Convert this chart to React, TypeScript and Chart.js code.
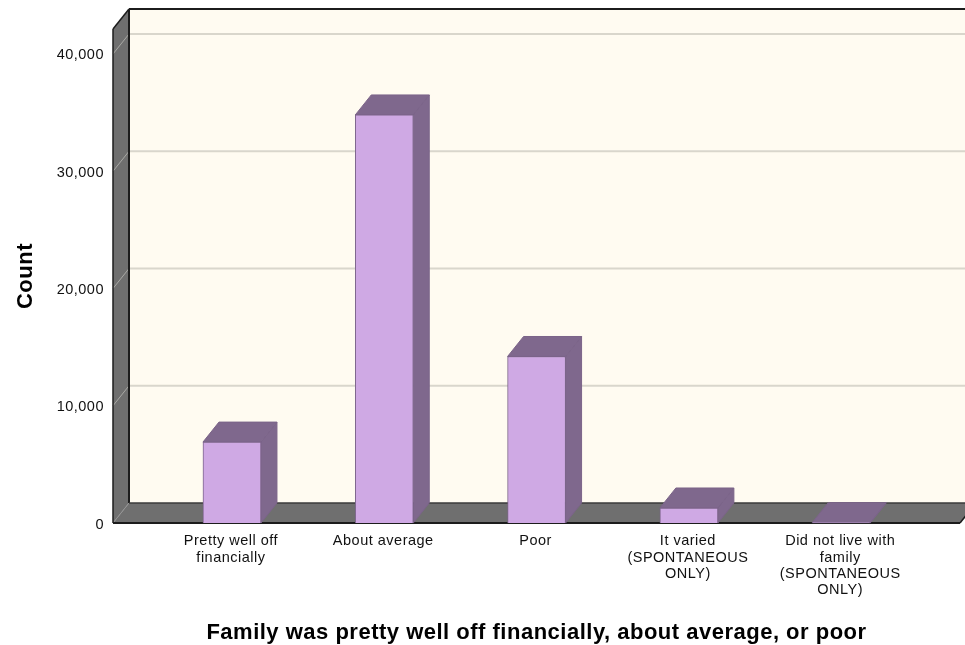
import React, { useEffect, useRef } from "react";
import { Chart, registerables, Plugin } from "chart.js";

Chart.register(...registerables);

const categories: string[][] = [
  ["Pretty well off", "financially"],
  ["About average"],
  ["Poor"],
  ["It varied", "(SPONTANEOUS", "ONLY)"],
  ["Did not live with", "family", "(SPONTANEOUS", "ONLY)"],
];
const counts = [6900, 34800, 14200, 1280, 30];
const yTicks = [0, 10000, 20000, 30000, 40000];
const yMax = 42130;
const xMin = -0.781;
const xMax = 4.78;

const xTitle = "Family was pretty well off financially, about average, or poor";
const yTitle = "Count";

// Depth of the extruded box, in canvas pixels.
const DEPTH_X = 16;
const DEPTH_Y = 20;

const WALL_BACK = "#fffbf1";
const WALL_SIDE = "#6f6f6f";
const EDGE = "#1c1c1c";
const GRID = "#d9d6cc";
const BAR_FRONT = "#cfa9e4";
const BAR_SIDE = "#7f688d";
const BAR_EDGE = "#7b6489";

function poly(ctx: CanvasRenderingContext2D, pts: number[][], fill: string, stroke?: string, lw = 1) {
  ctx.beginPath();
  pts.forEach(([x, y], i) => (i ? ctx.lineTo(x, y) : ctx.moveTo(x, y)));
  ctx.closePath();
  ctx.fillStyle = fill;
  ctx.fill();
  if (stroke) {
    ctx.strokeStyle = stroke;
    ctx.lineWidth = lw;
    ctx.stroke();
  }
}

function segment(ctx: CanvasRenderingContext2D, x0: number, y0: number, x1: number, y1: number, color: string, lw: number) {
  ctx.beginPath();
  ctx.moveTo(x0, y0);
  ctx.lineTo(x1, y1);
  ctx.strokeStyle = color;
  ctx.lineWidth = lw;
  ctx.stroke();
}

// The axis text is set slightly wide; the spacing has to be in place for measuring and drawing.
const wideText: Plugin<"bar"> = {
  id: "wideText",
  beforeLayout(chart) {
    (chart.ctx as any).letterSpacing = "0.5px";
  },
  beforeDraw(chart) {
    (chart.ctx as any).letterSpacing = "0.5px";
  },
};

// Paints the box walls, the floor, the gridlines and the bar sides behind the bar fronts.
const box3d: Plugin<"bar"> = {
  id: "box3d",
  beforeDatasetsDraw(chart) {
    const { ctx, chartArea: a, scales } = chart;
    const y = scales.y;
    const y0 = y.getPixelForValue(0);
    const dx = DEPTH_X;
    const dy = DEPTH_Y;
    ctx.save();

    poly(ctx, [[a.left + dx, a.top - dy], [a.right + dx, a.top - dy], [a.right + dx, y0 - dy], [a.left + dx, y0 - dy]], WALL_BACK);
    poly(ctx, [[a.left, a.top], [a.left + dx, a.top - dy], [a.left + dx, y0 - dy], [a.left, y0]], WALL_SIDE);
    poly(ctx, [[a.left, y0], [a.left + dx, y0 - dy], [a.right + dx, y0 - dy], [a.right, y0]], WALL_SIDE);

    for (const t of y.ticks) {
      if (t.value === 0) continue;
      const py = y.getPixelForValue(t.value);
      segment(ctx, a.left, py, a.left + dx, py - dy, "#a9a9a5", 1);
      segment(ctx, a.left + dx, py - dy, a.right + dx, py - dy, GRID, 2);
    }
    segment(ctx, a.left, y0, a.left + dx, y0 - dy, "#959595", 1);

    segment(ctx, a.left + dx, a.top - dy, a.right + dx, a.top - dy, EDGE, 2);
    segment(ctx, a.left + dx, a.top - dy, a.left + dx, y0 - dy, EDGE, 2);
    segment(ctx, a.left + dx, y0 - dy, a.right + dx, y0 - dy, "#3a3a3a", 1.5);
    segment(ctx, a.left, a.top, a.left + dx, a.top - dy, EDGE, 1.5);
    segment(ctx, a.left, a.top, a.left, y0, EDGE, 1.5);
    segment(ctx, a.left, y0, a.right, y0, EDGE, 2);
    segment(ctx, a.right, y0, a.right + dx, y0 - dy, EDGE, 1.5);

    for (const el of chart.getDatasetMeta(0).data as any[]) {
      const l = el.x - el.width / 2;
      const r = el.x + el.width / 2;
      poly(ctx, [[r, el.y], [r + dx, el.y - dy], [r + dx, el.base - dy], [r, el.base]], BAR_SIDE, BAR_EDGE);
      poly(ctx, [[l, el.y], [l + dx, el.y - dy], [r + dx, el.y - dy], [r, el.y]], BAR_SIDE, BAR_EDGE);
    }
    ctx.restore();
  },
};

export default function App() {
  const ref = useRef<HTMLCanvasElement>(null);

  useEffect(() => {
    const chart = new Chart(ref.current!, {
      type: "bar",
      data: {
        datasets: [
          {
            data: counts.map((v, i) => ({ x: i, y: v })),
            backgroundColor: BAR_FRONT,
            borderColor: BAR_EDGE,
            borderWidth: 1,
            barThickness: 58,
          },
        ],
      } as any,
      options: {
        responsive: false,
        animation: false,
        layout: { padding: { top: 29, right: 5, left: 0, bottom: 0 } },
        plugins: { legend: { display: false }, tooltip: { enabled: false } },
        scales: {
          x: {
            type: "linear",
            offset: false,
            min: xMin,
            max: xMax,
            grid: { display: false, drawTicks: false },
            border: { display: false },
            afterBuildTicks: (s: any) => {
              s.ticks = categories.map((_, i) => ({ value: i }));
            },
            afterFit: (s: any) => {
              s.height = 122;
            },
            ticks: {
              autoSkip: false,
              maxRotation: 0,
              minRotation: 0,
              padding: 10,
              labelOffset: -1,
              color: "#111",
              font: { family: "'Liberation Sans'", size: 14.5, lineHeight: 1.13 },
              callback: (v: any) => categories[v as number],
            },
            title: {
              display: true,
              text: xTitle,
              color: "#000",
              font: { family: "'Liberation Sans'", size: 22, weight: "bold", lineHeight: 1.1 },
              padding: { top: 0, bottom: 0 },
            },
          },
          y: {
            min: 0,
            max: yMax,
            grid: { display: false, drawTicks: false },
            border: { display: false },
            afterBuildTicks: (s: any) => {
              s.ticks = yTicks.map((value) => ({ value }));
            },
            afterFit: (s: any) => {
              s.width = 113;
            },
            ticks: {
              padding: 9,
              labelOffset: 1.5,
              color: "#111",
              font: { family: "'Liberation Sans'", size: 14.5 },
              callback: (v: any) => Number(v).toLocaleString("en-US"),
            },
            title: {
              display: true,
              text: yTitle,
              color: "#000",
              font: { family: "'Liberation Sans'", size: 22, weight: "bold" },
              padding: { top: 13, bottom: 0 },
            },
          },
        },
      } as any,
      plugins: [wideText, box3d],
    });
    return () => chart.destroy();
  }, []);

  return (
    <canvas
      ref={ref}
      width={965}
      height={645}
      style={{ position: "fixed", left: 0, top: 0, display: "block", background: "#fff" }}
    />
  );
}
